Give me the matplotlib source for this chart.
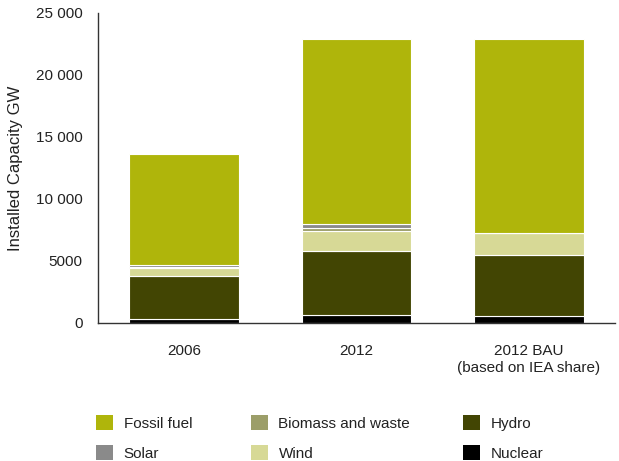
import matplotlib
matplotlib.use("Agg")
import matplotlib.pyplot as plt
from matplotlib.patches import Patch
import numpy as np

plt.rcParams['font.family'] = ['Liberation Sans', 'DejaVu Sans']

categories = ["2006", "2012", "2012 BAU\n(based on IEA share)"]
nuclear = [320, 640, 600]
hydro = [3480, 5150, 4910]
wind = [600, 1650, 1750]
biomass = [150, 250, 0]
solar = [100, 300, 0]
fossil = [8980, 14910, 15640]

series = [
    ("Nuclear", nuclear, "#000000"),
    ("Hydro", hydro, "#424503"),
    ("Wind", wind, "#d7d996"),
    ("Biomass and waste", biomass, "#9c9e69"),
    ("Solar", solar, "#8a8a8a"),
    ("Fossil fuel", fossil, "#afb50b"),
]

ytick_vals = [0, 5000, 10000, 15000, 20000, 25000]
ytick_labels = ["0", "5000", "10 000", "15 000", "20 000", "25 000"]

fig = plt.figure(figsize=(6.19, 4.61), dpi=100)
ax = fig.add_axes([98/619, 1-323/461, (615-98)/619, (323-13)/461])

x = np.arange(len(categories))
bottom = np.zeros(len(categories))
colors = {}
for name, vals, col in series:
    vals = np.array(vals, dtype=float)
    ax.bar(x, vals, bottom=bottom, width=0.635, color=col,
           edgecolor="white", linewidth=0.8)
    bottom += vals
    colors[name] = col

ax.set_xlim(-0.5, 2.5)
ax.set_ylim(0, 25000)
ax.set_xticks(x)
ax.set_xticklabels(categories, fontsize=11, color="#222222", linespacing=1.25)
ax.set_yticks(ytick_vals)
ax.set_yticklabels(ytick_labels, fontsize=11, color="#222222")
ax.tick_params(axis="both", length=0)
ax.tick_params(axis="x", pad=15)
ax.tick_params(axis="y", pad=11)
for s in ["top", "right"]:
    ax.spines[s].set_visible(False)
for s in ["left", "bottom"]:
    ax.spines[s].set_color("#333333")
    ax.spines[s].set_linewidth(1.0)
ax.set_ylabel("Installed Capacity GW", fontsize=12, color="#222222", labelpad=9)

legend_cols = [
    (["Fossil fuel", "Solar"], 96),
    (["Biomass and waste", "Wind"], 251),
    (["Hydro", "Nuclear"], 463),
]
for names, xpix in legend_cols:
    handles = [Patch(facecolor=colors[n], edgecolor="none") for n in names]
    fig.legend(handles, names, loc="upper left",
               bbox_to_anchor=(xpix/619, 1-415/461),
               frameon=False, fontsize=11, borderpad=0, borderaxespad=0,
               handlelength=1.1, handleheight=1.1, handletextpad=0.7,
               labelspacing=0.95, labelcolor="#222222")

fig.savefig("out.png", dpi=100)
